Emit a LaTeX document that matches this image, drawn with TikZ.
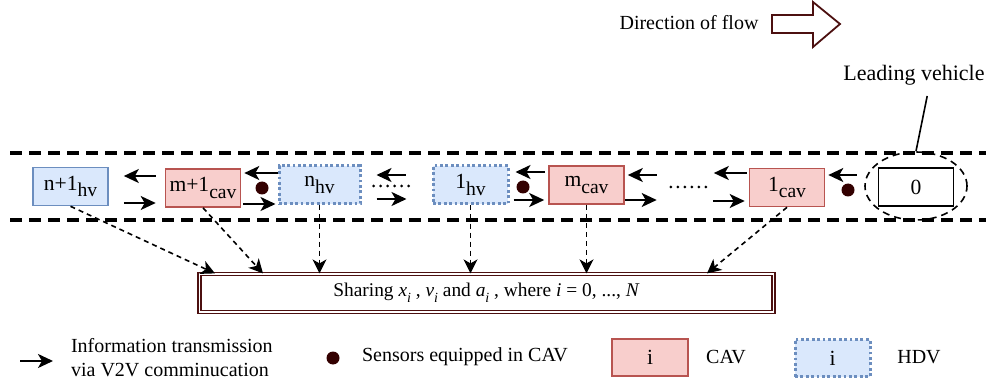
\documentclass[tikz,border=0pt]{standalone}
\usepackage{fontspec}
\setmainfont{Liberation Serif}
\usetikzlibrary{arrows.meta,shapes.geometric}

\definecolor{cavfill}{HTML}{F8CECC}
\definecolor{cavdraw}{HTML}{B85450}
\definecolor{hdvfill}{HTML}{DAE8FC}
\definecolor{hdvdraw}{HTML}{6C8EBF}
\definecolor{sensorc}{HTML}{330000}
\definecolor{darkred}{HTML}{4C1010}

\newcommand{\lowsub}[1]{\raisebox{-0.65ex}{\fontsize{9.8}{11}\selectfont #1}}
\newcommand{\itsub}[1]{\textit{#1}\raisebox{-0.7ex}{\fontsize{7}{8}\selectfont\textit{i}}}

\tikzset{
  veh/.style={rectangle, minimum width=37.5pt, minimum height=19pt, inner sep=1pt,
    font=\fontsize{10.8}{12}\selectfont},
  cav/.style={veh, draw=cavdraw, fill=cavfill, line width=0.8pt},
  hdv/.style={veh, draw=hdvdraw, fill=hdvfill, line width=1.5pt, dash pattern=on 1.4pt off 1.3pt},
  hdvsolid/.style={veh, draw=hdvdraw, fill=hdvfill, line width=0.8pt},
  leadbox/.style={veh, draw, line width=0.8pt},
  sensor/.style={circle, fill=sensorc, minimum size=6.5pt, inner sep=0pt},
  v2v/.style={line width=1pt, -{Stealth[length=7.5pt,width=7pt,inset=2pt]}},
  info/.style={line width=0.8pt, dash pattern=on 2.5pt off 2pt, -{Stealth[length=7pt,width=7pt,inset=2pt]}},
  lane/.style={line width=1.6pt, dash pattern=on 6pt off 3.5pt},
  dotrow/.style={line width=1.5pt, line cap=round, dash pattern=on 0pt off 3.5pt},
  sharebox/.style={draw=darkred, double, line width=0.6pt, double distance=0.9pt,
    minimum width=287pt, minimum height=19pt, font=\fontsize{9.7}{11}\selectfont},
}

\begin{document}
\begin{tikzpicture}[x=0.5pt,y=-0.5pt]
\useasboundingbox (0,0) rectangle (986,385);

% lanes
\draw[lane] (10,153) -- (986,153);
\draw[lane] (10,220) -- (986,220);

% vehicles
\node[hdvsolid] (n1) at (70.5,186.5) {n+1\lowsub{hv}};
\node[cav] (m1) at (203,188) {m+1\lowsub{cav}};
\node[hdv, minimum width=40.5pt] (nh) at (319.5,185) {n\lowsub{hv}};
\node[hdv] (lh) at (470.5,185) {1\lowsub{hv}};
\node[cav] (mc) at (586.5,185) {m\lowsub{cav}};
\node[cav] (lc) at (787,187.5) {1\lowsub{cav}};
\node[leadbox] (v0) at (916,187) {0};
\node[draw, ellipse, line width=0.8pt, dash pattern=on 3.5pt off 2.5pt,
  minimum width=51pt, minimum height=34pt] (ell) at (916,186) {};

% sensors
\node[sensor] (s1) at (262,188) {};
\node[sensor] (s2) at (523,187) {};
\node[sensor] (s3) at (848,190) {};

% V2V links
\draw[v2v, shorten <=4.5pt, shorten >=7.5pt] (m1.west |- 0,176) -- (n1.east |- 0,176);
\draw[v2v, shorten <=7.5pt, shorten >=4.5pt] (n1.east |- 0,203) -- (m1.west |- 0,203);
\draw[v2v, shorten >=1.5pt] (nh.west |- 0,173) -- (m1.east |- 0,173);
\draw[v2v, shorten <=1pt, shorten >=1pt] (m1.east |- 0,204) -- (nh.west |- 0,204);
\draw[v2v, shorten <=13pt, shorten >=7.5pt] (lh.west |- 0,175) -- (nh.east |- 0,175);
\draw[v2v, shorten <=7.5pt, shorten >=12.5pt] (nh.east |- 0,199) -- (lh.west |- 0,199);
\draw[dotrow, shorten <=6pt, shorten >=10.5pt] (nh.east |- 0,186) -- (lh.west |- 0,186);
\draw[v2v, shorten <=1.5pt, shorten >=3pt] (mc.west |- 0,172) -- (lh.east |- 0,172);
\draw[v2v, shorten <=2pt, shorten >=2pt] (lh.east |- 0,200) -- (mc.west |- 0,200);
\draw[v2v, shorten <=46pt, shorten >=1.5pt] (lc.west |- 0,175) -- (mc.east |- 0,175);
\draw[v2v, shorten >=46pt] (mc.east |- 0,200) -- (lc.west |- 0,200);
\draw[dotrow, shorten <=23pt, shorten >=19.5pt] (mc.east |- 0,187) -- (lc.west |- 0,187);
\draw[v2v, shorten <=1pt, shorten >=44.5pt] (lc.west |- 0,173) -- (mc.east |- 0,173);
\draw[v2v, shorten <=44pt, shorten >=2pt] (mc.east |- 0,201) -- (lc.west |- 0,201);
\draw[v2v, shorten <=10.5pt, shorten >=1.5pt] (v0.west |- 0,175) -- (lc.east |- 0,175);

% shared information
\node[sharebox] (share) at (486.5,293)
  {Sharing \itsub{x} , \itsub{v} and \itsub{a} , where \textit{i} = 0, ..., \textit{N}};
\draw[info] (n1.south) -- (share.north -| 215,0);
\draw[info] (m1.south) -- (share.north -| 263,0);
\draw[info] (nh.south) -- (nh.south |- share.north);
\draw[info] (lh.south) -- (lh.south |- share.north);
\draw[info] (mc.south) -- (mc.south |- share.north);
\draw[info] (lc.south) -- (share.north -| 707,0);

% flow direction
\node (flowtxt) at (689,23) {Direction of flow};
\draw[darkred, line width=0.9pt, fill=white] (772,15) -- (813,15) -- (813,2) -- (840,24)
  -- (813,47) -- (813,33) -- (772,33) -- cycle;

% leading vehicle
\node[font=\fontsize{11}{13}\selectfont] (lead) at (914,75) {Leading vehicle};
\draw[line width=0.8pt, shorten <=2pt] (lead.south -| 928,0) -- (ell.north);

% legend
\coordinate (la) at (20,361);
\coordinate (lb) at (53,361);
\draw[v2v] (la) -- (lb);
\node[anchor=west, align=left] (infotxt) at (64,358) {Information transmission\\via V2V comminucation};
\node[sensor] (sl) at (333,358) {};
\node[anchor=west] (sensortxt) at (355,357) {Sensors equipped in CAV};
\node[cav, minimum width=38pt, minimum height=18.5pt] (cavl) at (650,357.5) {i};
\node (cavtxt) at (726,357) {CAV};
\node[hdv, minimum height=18.5pt] (hdvl) at (832.5,358) {i};
\node (hdvtxt) at (919,357) {HDV};
\end{tikzpicture}
\end{document}
